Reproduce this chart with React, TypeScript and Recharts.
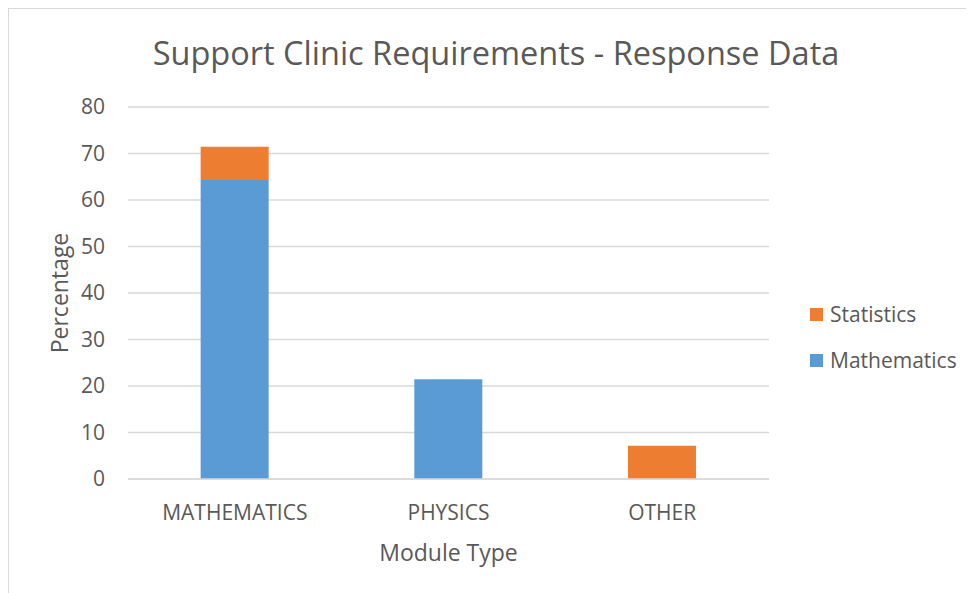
import React from 'react';
import { BarChart, Bar, XAxis, YAxis, CartesianGrid } from 'recharts';

const categories = ['MATHEMATICS', 'PHYSICS', 'OTHER'];
const mathematics = [64.29, 21.43, 0];
const statistics = [7.14, 0, 7.14];
const yTicks = [0, 10, 20, 30, 40, 50, 60, 70, 80];

const BLUE = '#5B9BD5';
const ORANGE = '#ED7D31';
const TEXT = '#595959';
const FONT = '"Open Sans", sans-serif';

const data = categories.map((name, i) => ({
  name,
  Mathematics: mathematics[i],
  Statistics: statistics[i],
}));

const legendItems = [
  { label: 'Statistics', color: ORANGE },
  { label: 'Mathematics', color: BLUE },
];

export default function App() {
  return (
    <div
      style={{
        position: 'relative',
        width: 966,
        height: 585,
        borderTop: '1px solid #d9d9d9',
        borderLeft: '1px solid #d9d9d9',
        fontFamily: FONT,
        background: '#fff',
      }}
    >
      <div
        style={{
          position: 'absolute',
          left: 0,
          right: 0,
          top: 21,
          textAlign: 'center',
          paddingLeft: 8,
          fontSize: 32.5,
          color: TEXT,
          fontFamily: FONT,
          whiteSpace: 'nowrap',
        }}
      >
        Support Clinic Requirements - Response Data
      </div>
      <BarChart
        width={965}
        height={584}
        data={data}
        margin={{ top: 98, right: 205, bottom: 84, left: 59 }}
        barCategoryGap="34%"
      >
        <CartesianGrid vertical={false} stroke="#d9d9d9" strokeWidth={1.5} />
        <XAxis
          dataKey="name"
          height={30}
          tickLine={false}
          axisLine={{ stroke: '#d9d9d9', strokeWidth: 1.5 }}
          tick={{ fill: TEXT, fontSize: 21, fontFamily: FONT }}
          tickSize={0}
          tickMargin={26}
          label={{ value: 'Module Type', position: 'insideBottom', offset: -52, fill: TEXT, fontSize: 23, fontFamily: FONT }}
        />
        <YAxis
          width={60}
          domain={[0, 80]}
          ticks={yTicks}
          tickLine={false}
          axisLine={false}
          tickSize={0}
          tickMargin={23}
          tick={{ fill: TEXT, fontSize: 21, fontFamily: FONT }}
          label={{ value: 'Percentage', angle: -90, position: 'insideLeft', offset: -8, fill: TEXT, fontSize: 23, fontFamily: FONT, style: { textAnchor: 'middle' } }}
        />
        <Bar dataKey="Mathematics" stackId="a" fill={BLUE} isAnimationActive={false} />
        <Bar dataKey="Statistics" stackId="a" fill={ORANGE} isAnimationActive={false} />
      </BarChart>
      <div style={{ position: 'absolute', left: 801, top: 282 }}>
        {legendItems.map((it) => (
          <div key={it.label} style={{ display: 'flex', alignItems: 'center', height: 46, fontSize: 21, color: TEXT }}>
            <span style={{ width: 13, height: 13, background: it.color, marginRight: 7, display: 'inline-block' }} />
            {it.label}
          </div>
        ))}
      </div>
    </div>
  );
}
